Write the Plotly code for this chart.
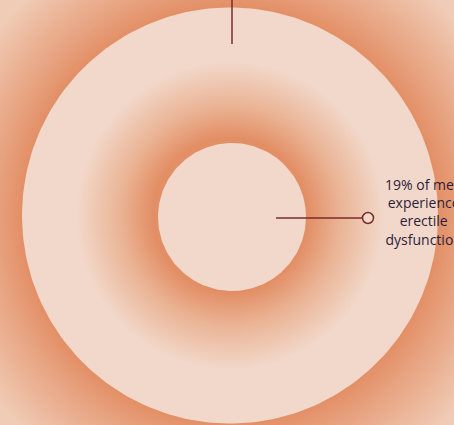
import numpy as np
import plotly.graph_objects as go

# ---- data / labels ----
label_lines = ["19% of men", "experience", "erectile", "dysfunction"]
share_value = 19  # percent

# geometry (pixel-like coordinates)
W, H = 454, 425
BIG_CX, BIG_CY, R_BIG = 230, 215.5, 208
IN_CX, IN_CY, R_INNER = 232, 217, 74
R_BG = 330

ORANGE = "#e38f66"
LIGHT = "#f2d8ca"
EDGE_LIGHT = "#f0cbb5"
INK = "#2c1d3a"
LEAD = "#7a2d2a"


def circle_xy(cx, cy, r, n=240):
    t = np.linspace(0, 2 * np.pi, n)
    return cx + r * np.cos(t), cy + r * np.sin(t)


fig = go.Figure()

# outer glow around the big disc
x, y = circle_xy(BIG_CX, BIG_CY, R_BG)
f = R_BIG / R_BG
fig.add_trace(go.Scatter(
    x=x, y=y, mode="lines", line=dict(width=0), fill="toself",
    fillgradient=dict(type="radial", colorscale=[
        [0, ORANGE], [f, ORANGE], [f + 0.08, "#e7a27f"], [0.9, EDGE_LIGHT], [1, EDGE_LIGHT]]),
    hoverinfo="skip", showlegend=False))

# big disc with inner glow
x, y = circle_xy(BIG_CX, BIG_CY, R_BIG)
a = R_INNER / R_BIG
fig.add_trace(go.Scatter(
    x=x, y=y, mode="lines", line=dict(width=0), fill="toself",
    fillgradient=dict(type="radial", colorscale=[
        [0, ORANGE], [a + 0.02, ORANGE], [a + 0.17, "#eab394"], [0.74, LIGHT], [1, LIGHT]]),
    hoverinfo="skip", showlegend=False))

# inner disc
x, y = circle_xy(IN_CX, IN_CY, R_INNER)
fig.add_trace(go.Scatter(
    x=x, y=y, mode="lines", line=dict(width=0), fill="toself", fillcolor=LIGHT,
    hoverinfo="skip", showlegend=False))

# top leader line
fig.add_trace(go.Scatter(x=[232, 232], y=[0, 44], mode="lines",
                         line=dict(color=LEAD, width=1.5),
                         hoverinfo="skip", showlegend=False))

# right leader line with marker
fig.add_trace(go.Scatter(x=[276, 368], y=[218, 218], mode="lines",
                         line=dict(color=LEAD, width=1.5),
                         hoverinfo="skip", showlegend=False))
fig.add_trace(go.Scatter(x=[368], y=[218], mode="markers",
                         marker=dict(size=11, color=LIGHT, line=dict(color=LEAD, width=1.5)),
                         hoverinfo="skip", showlegend=False))

fig.add_annotation(x=423, y=212, xref="x", yref="y", text="<br>".join(label_lines),
                   showarrow=False, align="center", xanchor="center", yanchor="middle",
                   font=dict(family="Open Sans", size=14, weight=500, color=INK))

fig.update_layout(
    width=W, height=H, margin=dict(l=0, r=0, t=0, b=0),
    paper_bgcolor=EDGE_LIGHT, plot_bgcolor=EDGE_LIGHT,
    xaxis=dict(range=[0, W], visible=False, fixedrange=True),
    yaxis=dict(range=[H, 0], visible=False, fixedrange=True),
)

fig.write_html("out.html")
